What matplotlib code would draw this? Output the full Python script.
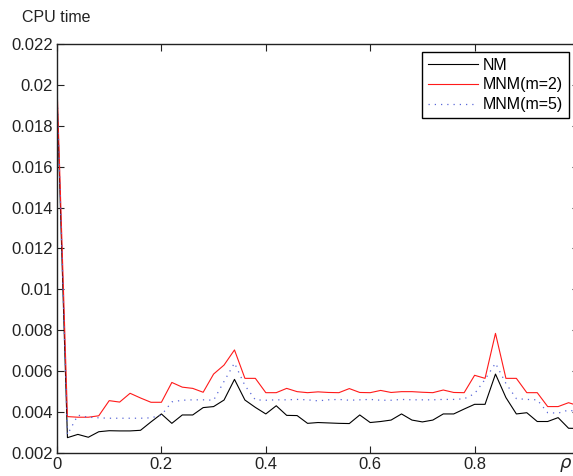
import numpy as np
import matplotlib
matplotlib.use("Agg")
import matplotlib.pyplot as plt

plt.rcParams['font.family'] = ['Liberation Sans', 'DejaVu Sans']

# rho grid, step 0.02
rho = np.round(np.arange(0, 1.001, 0.02), 2)

# CPU time values (x1e-3)
nm = [19.5, 2.75, 2.91, 2.77, 3.04, 3.09, 3.08, 3.08, 3.11, 3.52,
      3.91, 3.45, 3.86, 3.86, 4.22, 4.27, 4.59, 5.60, 4.59, 4.23,
      3.91, 4.31, 3.84, 3.83, 3.45, 3.49, 3.47, 3.45, 3.44, 3.86,
      3.49, 3.54, 3.61, 3.91, 3.61, 3.52, 3.61, 3.91, 3.91, 4.15,
      4.38, 4.38, 5.86, 4.71, 3.91, 3.97, 3.54, 3.54, 3.73, 3.21, 3.20]
mnm2 = [20.0, 3.78, 3.75, 3.75, 3.82, 4.56, 4.49, 4.92, 4.69, 4.48,
        4.48, 5.45, 5.22, 5.16, 4.97, 5.86, 6.30, 7.04, 5.65, 5.65,
        4.95, 4.95, 5.16, 5.00, 4.95, 4.99, 4.96, 4.95, 5.15, 4.96,
        4.95, 5.06, 4.96, 5.00, 5.00, 4.97, 4.95, 5.08, 4.96, 4.95,
        5.80, 5.65, 7.85, 5.65, 5.65, 4.95, 4.95, 4.27, 4.27, 4.46, 4.30]
mnm5 = [19.8, 2.90, 3.85, 3.75, 3.72, 3.70, 3.70, 3.70, 3.70, 3.72,
        3.85, 4.50, 4.58, 4.60, 4.60, 4.58, 5.50, 6.40, 5.30, 4.60,
        4.58, 4.60, 4.60, 4.62, 4.60, 4.55, 4.60, 4.62, 4.58, 4.60,
        4.62, 4.58, 4.58, 4.62, 4.60, 4.60, 4.60, 4.62, 4.62, 4.65,
        4.90, 5.60, 6.39, 5.40, 4.66, 4.62, 4.60, 3.97, 3.95, 4.10, 4.00]

yticks = [0.002, 0.004, 0.006, 0.008, 0.01, 0.012, 0.014, 0.016, 0.018, 0.02, 0.022]
ytick_labels = ['0.002', '0.004', '0.006', '0.008', '0.01', '0.012', '0.014',
                '0.016', '0.018', '0.02', '0.022']
xticks = [0, 0.2, 0.4, 0.6, 0.8, 1.0]
xtick_labels = ['0', '0.2', '0.4', '0.6', '0.8', '']

W, H = 573, 476
fig = plt.figure(figsize=(W / 100, H / 100), dpi=100)
# axes runs past the right edge of the picture (cropped like the original)
ax = fig.add_axes([57 / W, 1 - 453 / H, (579 - 57) / W, (453 - 44) / H])

s = 1e-3
ax.plot(rho, np.array(nm) * s, color='black', lw=0.8, label='NM')
ax.plot(rho, np.array(mnm2) * s, color='#ff1a1a', lw=0.8, label='MNM(m=2)')
ax.plot(rho, np.array(mnm5) * s, color='#5a68d8', lw=0.9,
        linestyle=(0, (1, 4)), label='MNM(m=5)')

ax.set_xlim(0, 1)
ax.set_ylim(0.002, 0.022)
ax.set_xticks(xticks)
ax.set_xticklabels(xtick_labels)
ax.set_yticks(yticks)
ax.set_yticklabels(ytick_labels)
ax.tick_params(direction='in', length=5, width=0.8, top=True, right=True,
               labelsize=12, colors='#222222', pad=3)
for sp in ax.spines.values():
    sp.set_linewidth(1.0)
    sp.set_color('#222222')

fig.text(22 / W, 1 - 18 / H, 'CPU time', fontsize=11.5, va='center', ha='left',
         color='#222222')
# x label sits where the "1" tick label would be
fig.text(572 / W, 1 - 465 / H, r'$\rho$', fontsize=13, va='center', ha='right',
         color='#222222')

leg = ax.legend(loc='upper right', bbox_to_anchor=(569 / W, 1 - 52 / H),
                bbox_transform=fig.transFigure, borderaxespad=0,
                fontsize=11.5, fancybox=False, framealpha=1,
                edgecolor='black', handlelength=3.1, handletextpad=0.35,
                labelspacing=0.3, borderpad=0.35)
leg.get_frame().set_linewidth(1.0)

fig.savefig('out.png', dpi=100)
